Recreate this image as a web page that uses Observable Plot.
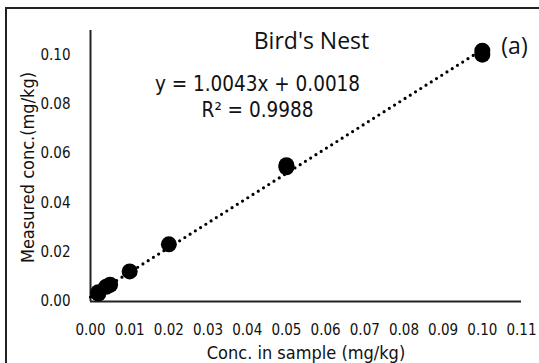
<!DOCTYPE html>
<html>
<head>
<meta charset="utf-8">
<script src="https://cdn.jsdelivr.net/npm/d3@7"></script>
<script src="https://cdn.jsdelivr.net/npm/@observablehq/plot@0.6"></script>
<style>
  html, body { margin: 0; padding: 0; background: #fff; overflow: hidden; }
  #wrap { position: relative; width: 539px; height: 363px; overflow: hidden; background: #fff; }
  #frame { position: absolute; left: 5px; top: 7px; width: 560px; height: 400px; border-top: 2px solid #222; border-left: 2px solid #222; }
  #chart { position: absolute; left: 0; top: 0; }
  #chart g[aria-label="x-axis tick label"] { font-size: 15px; font-family: "DejaVu Sans Condensed", "DejaVu Sans", sans-serif; font-stretch: condensed; fill: #111; }
  #chart g[aria-label="y-axis tick label"] { font-size: 15px; font-family: "DejaVu Sans Condensed", "DejaVu Sans", sans-serif; font-stretch: condensed; fill: #111; }
</style>
</head>
<body>
<div id="wrap"><div id="frame"></div><div id="chart"></div></div>
<script>
// Data
const concSample = [0.002, 0.002, 0.004, 0.005, 0.01, 0.02, 0.05, 0.05, 0.1, 0.1];
const measured   = [0.0032, 0.0038, 0.006, 0.0068, 0.0122, 0.0232, 0.0545, 0.0553, 0.1002, 0.1018];
const xTicks = [0, 0.01, 0.02, 0.03, 0.04, 0.05, 0.06, 0.07, 0.08, 0.09, 0.10, 0.11];
const yTicks = [0, 0.02, 0.04, 0.06, 0.08, 0.10];
const slope = 1.0043, intercept = 0.0018;
const trendX = [0, 0.1];
const title = "Bird's Nest";
const equation = "y = 1.0043x + 0.0018";
const r2Text = "R² = 0.9988";
const panelTag = "(a)";
const xTitle = "Conc. in sample (mg/kg)";
const yTitle = "Measured conc.(mg/kg)";

const points = concSample.map((x, i) => ({x, y: measured[i]}));
const trend = trendX.map(x => ({x, y: slope * x + intercept}));

const condFont = "DejaVu Sans Condensed, DejaVu Sans, sans-serif";
const titleFont = "Open Sans, sans-serif";

const chart = Plot.plot({
  width: 539,
  height: 363,
  marginLeft: 90,
  marginRight: 18,
  marginTop: 30,
  marginBottom: 62,
  style: {background: "transparent", color: "#111"},
  x: {domain: [0, 0.11]},
  y: {domain: [0, 0.11]},
  marks: [
    Plot.axisX(xTicks, {tickSize: 0, tickPadding: 23, tickFormat: d3.format(".2f"), label: null}),
    Plot.axisY(yTicks, {tickSize: 0, tickPadding: 20, tickFormat: d3.format(".2f"), label: null}),
    Plot.ruleX([0], {stroke: "#222", strokeWidth: 2}),
    Plot.ruleY([0], {stroke: "#222", strokeWidth: 2}),
    Plot.line(trend, {x: "x", y: "y", stroke: "#000", strokeWidth: 3.2, strokeLinecap: "round", strokeDasharray: "0 6.2"}),
    Plot.dot(points, {x: "x", y: "y", r: 8, fill: "#000", stroke: "none"}),
    Plot.text([title], {frameAnchor: "top-left", dx: 221, dy: 11, textAnchor: "middle", lineAnchor: "middle", fontSize: 23, fontFamily: titleFont, fill: "#111"}),
    Plot.text([panelTag], {frameAnchor: "top-left", dx: 424, dy: 16, textAnchor: "middle", lineAnchor: "middle", fontSize: 23, fontFamily: titleFont, fill: "#111"}),
    Plot.text([equation], {frameAnchor: "top-left", dx: 167, dy: 54, textAnchor: "middle", lineAnchor: "middle", fontSize: 20.5, fontFamily: condFont, fill: "#111"}),
    Plot.text([r2Text], {frameAnchor: "top-left", dx: 167, dy: 80, textAnchor: "middle", lineAnchor: "middle", fontSize: 20.5, fontFamily: condFont, fill: "#111"}),
    Plot.text([xTitle], {frameAnchor: "bottom", dy: 52, textAnchor: "middle", lineAnchor: "middle", fontSize: 18, fontFamily: condFont, fill: "#111"}),
    Plot.text([yTitle], {frameAnchor: "left", rotate: -90, dx: -62, dy: 1.5, textAnchor: "middle", lineAnchor: "middle", fontSize: 18, fontFamily: condFont, fill: "#111"})
  ]
});
document.getElementById("chart").appendChild(chart);
</script>
</body>
</html>
